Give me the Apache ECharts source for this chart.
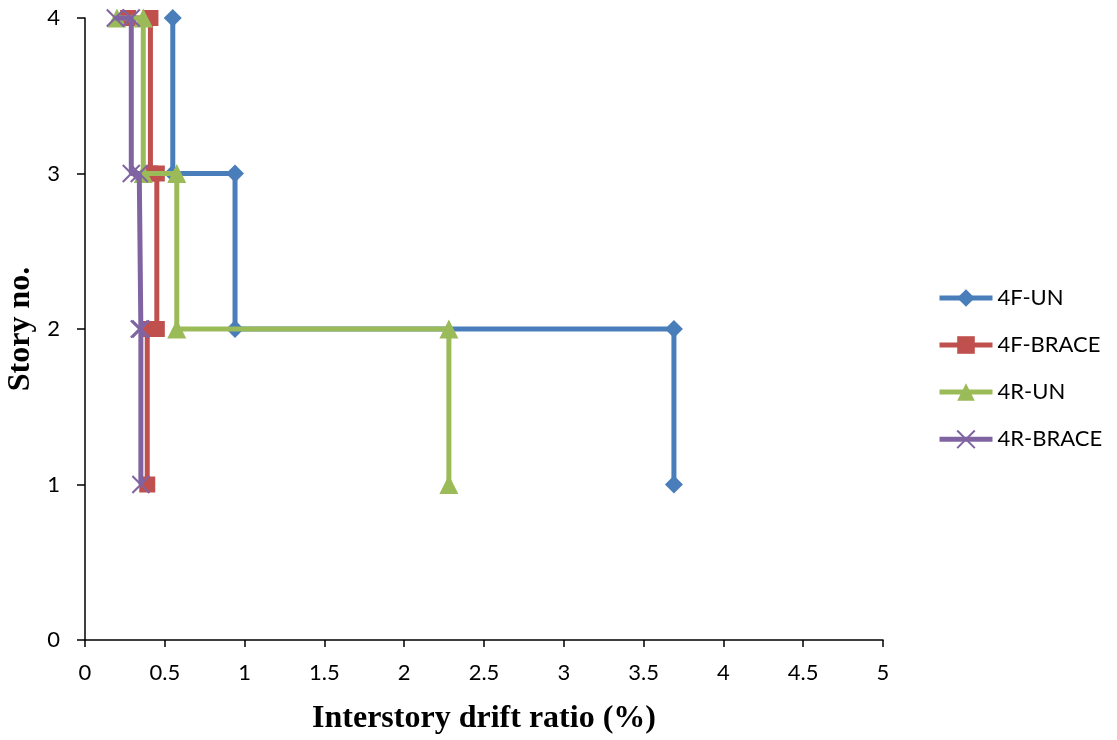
<!DOCTYPE html>
<html>
<head>
<meta charset="utf-8">
<title>Interstory drift ratio</title>
<script src="https://cdn.jsdelivr.net/npm/echarts@6/dist/echarts.min.js"></script>
<style>
  html, body { margin: 0; padding: 0; background: #ffffff; }
  #chart { width: 1117px; height: 740px; }
</style>
</head>
<body>
<div id="chart"></div>
<script>
// Story drift profiles: each story's drift is drawn as a vertical step
// between its floor level and the next, as [drift %, story] pairs.
const seriesNames = ['4F-UN', '4F-BRACE', '4R-UN', '4R-BRACE'];

const drift4FUN = [[3.69, 1], [3.69, 2], [0.94, 2], [0.94, 3], [0.55, 3], [0.55, 4]];
const drift4FBRACE = [[0.39, 1], [0.39, 2], [0.45, 2], [0.45, 3], [0.41, 3], [0.41, 4], [0.27, 4]];
const drift4RUN = [[2.28, 1], [2.28, 2], [0.575, 2], [0.575, 3], [0.365, 3], [0.365, 4], [0.2, 4]];
const drift4RBRACE = [[0.35, 1], [0.35, 2], [0.34, 2], [0.34, 3], [0.29, 3], [0.29, 4], [0.19, 4]];

const seriesColors = ['#4A7EBB', '#C0504D', '#9BBB59', '#8064A2'];
const seriesSymbols = [
  'diamond',
  'rect',
  'triangle',
  // thin "x" cross marker
  'path://M0,0 L10,10 M10,0 L0,10'
];
const symbolSizes = [18, 16, 19, 17];

const xTicks = { min: 0, max: 5, interval: 0.5 };
const yTicks = { min: 0, max: 4, interval: 1 };

const chart = echarts.init(document.getElementById('chart'), null, { renderer: 'canvas' });

const allData = [drift4FUN, drift4FBRACE, drift4RUN, drift4RBRACE];

const series = allData.map((data, i) => {
  const isCross = i === 3;
  return {
    name: seriesNames[i],
    type: 'line',
    data: data,
    clip: false,
    symbol: seriesSymbols[i],
    symbolSize: symbolSizes[i],
    showAllSymbol: true,
    lineStyle: { color: seriesColors[i], width: 5 },
    itemStyle: isCross
      ? { color: 'none', borderColor: seriesColors[i], borderWidth: 2 }
      : { color: seriesColors[i], borderWidth: 0 },
    emphasis: { disabled: true },
    z: 2 + i
  };
});

const labelFont = 'Lato, "Open Sans", sans-serif';
const titleFont = '"Liberation Serif", "DejaVu Serif", serif';

chart.setOption({
  animation: false,
  backgroundColor: '#ffffff',
  grid: { left: 85, right: 234, top: 18, bottom: 100, containLabel: false, outerBoundsMode: 'none' },
  xAxis: {
    type: 'value',
    min: xTicks.min,
    max: xTicks.max,
    interval: xTicks.interval,
    name: 'Interstory drift ratio (%)',
    nameLocation: 'middle',
    nameGap: 63,
    nameTextStyle: { fontFamily: titleFont, fontWeight: 'bold', fontSize: 32, color: '#000' },
    axisLine: { show: true, onZero: false, lineStyle: { color: '#000', width: 1.5 } },
    axisTick: { show: true, length: 7, inside: false, lineStyle: { color: '#000', width: 1.5 } },
    axisLabel: { margin: 22, fontFamily: labelFont, fontSize: 22, color: '#000' },
    splitLine: { show: false }
  },
  yAxis: {
    type: 'value',
    min: yTicks.min,
    max: yTicks.max,
    interval: yTicks.interval,
    name: 'Story no.',
    nameLocation: 'middle',
    nameGap: 46,
    nameRotate: 90,
    nameTextStyle: { fontFamily: titleFont, fontWeight: 'bold', fontSize: 32, color: '#000' },
    axisLine: { show: true, onZero: false, lineStyle: { color: '#000', width: 1.5 } },
    axisTick: { show: true, length: 8, inside: false, lineStyle: { color: '#000', width: 1.5 } },
    axisLabel: { margin: 25, fontFamily: labelFont, fontSize: 22, color: '#000' },
    splitLine: { show: false }
  },
  legend: {
    orient: 'vertical',
    left: 937,
    top: 287,
    padding: 0,
    itemWidth: 53,
    itemHeight: 22,
    itemGap: 25,
    selectedMode: false,
    lineStyle: { width: 5 },
    textStyle: { fontFamily: labelFont, fontSize: 22, color: '#000' },
    data: seriesNames
  },
  series: series
});
</script>
</body>
</html>
